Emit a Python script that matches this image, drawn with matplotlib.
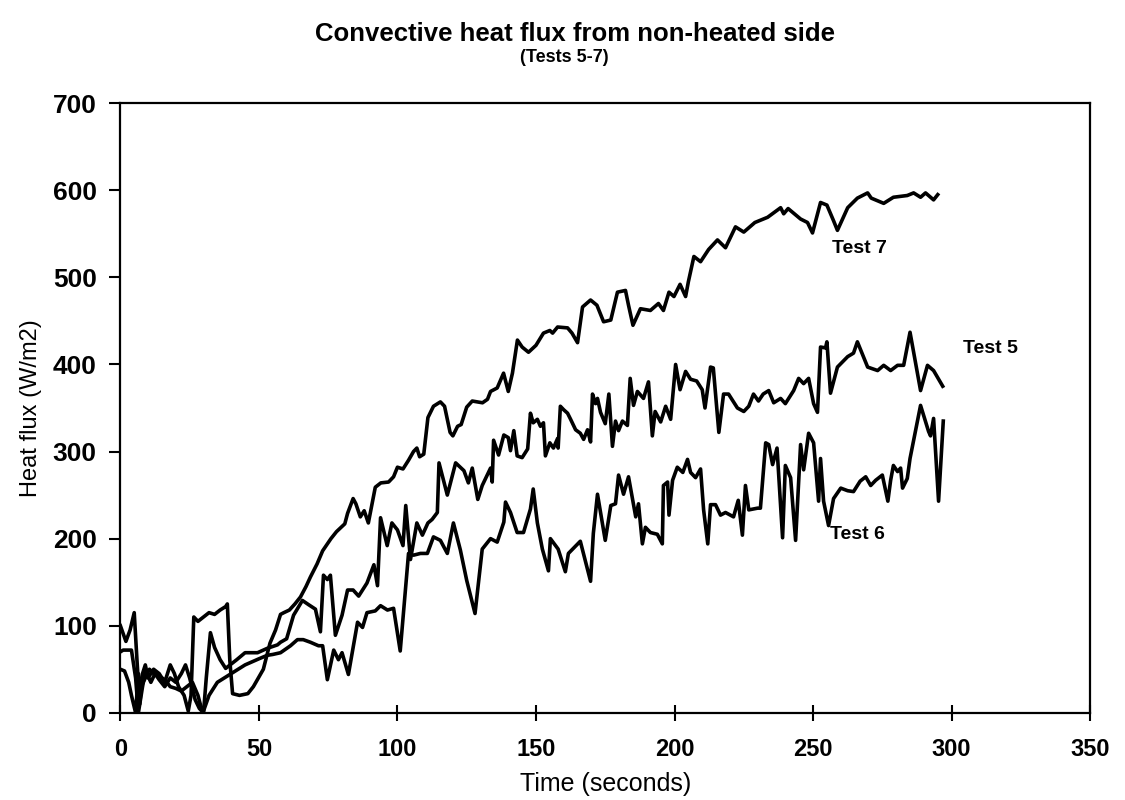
import matplotlib
matplotlib.use("Agg")
import matplotlib.pyplot as plt

plt.rcParams['font.family'] = ['Liberation Sans', 'DejaVu Sans']

# time (s) and convective heat flux (W/m2) for each test
t7 = [0, 2, 3.5, 5, 6, 7, 8, 9, 10, 12, 14, 16, 18, 19.5, 21, 23, 24.5, 25.5, 26.5, 28, 30, 32, 34, 36,
      38, 38.6, 39.5, 40.5, 43, 46, 48, 51.6, 54, 56, 57.8, 59, 61, 63, 65, 67, 68.6, 71, 73, 76, 78,
      81, 82, 84, 85, 86.6, 88, 89.5, 92, 94, 96.8, 98.6, 100, 102, 104, 105.8, 107, 108, 109.5, 111,
      113, 115.5, 117, 119, 120, 121.7, 123, 125, 127, 130.7, 132.5, 133.6, 136, 138.3, 140, 141.5,
      143.3, 145, 147.3, 150, 152.7, 155, 156, 157.8, 161.4, 163, 165, 166.8, 169.7, 172, 174.4, 177,
      179.4, 182.3, 183.4, 185, 187.7, 191.3, 194.2, 196, 198, 199.8, 202, 204, 205, 207, 209.4,
      212.3, 215.5, 218.4, 222, 225, 229, 233.6, 238.3, 239.4, 241, 245.5, 248, 249.8, 252.7, 255,
      257.4, 258.8, 262.5, 266, 269.7, 271, 275.5, 279, 284, 286.3, 288.8, 290.6, 293.5, 295]
q7 = [100, 82, 95, 115, 60, 10, 45, 55, 40, 50, 45, 35, 55, 45, 30, 20, 2, 20, 110, 105, 110, 115, 113,
      118, 122, 125, 60, 22, 20, 22, 30, 50, 80, 95, 113, 115, 118, 125, 133, 145, 156, 171, 186, 200,
      208, 217, 229, 246, 240, 225, 232, 218, 259, 264, 265, 271, 282, 280, 290, 300, 304, 294, 297,
      339, 352, 357, 352, 322, 318, 329, 331, 351, 358, 356, 360, 369, 373, 390, 369, 390, 428, 420,
      414, 422, 436, 439, 436, 443, 442, 436, 425, 466, 474, 468, 449, 451, 483, 485, 468, 445, 464,
      462, 470, 462, 483, 478, 492, 478, 495, 524, 518, 532, 543, 534, 558, 552, 563, 569, 580, 573,
      579, 567, 563, 551, 586, 583, 565, 554, 580, 591, 597, 591, 585, 592, 594, 597, 592, 597, 589,
      595]

t5 = [0, 1, 4, 5.5, 6.5, 8, 9, 10, 11, 12.5, 14, 16, 18, 20, 22, 23.5, 25, 27, 28.5, 30, 31, 32.5, 34,
      36, 38, 42, 45, 49.5, 53, 56.7, 57.8, 60, 62.5, 65.7, 68, 70.4, 72.2, 73.3, 74.7, 75.8, 77.6, 80,
      82, 84, 86, 89, 91.5, 92.8, 93.9, 96.3, 98, 100, 102, 103, 104.7, 107, 109, 111, 112.5, 114.4,
      115, 118, 121, 124, 125.6, 127, 129, 130.6, 131.8, 133.6, 134.2, 134.7, 136.5, 138.4, 140, 140.8,
      142, 143.2, 145, 147, 148, 149, 150.5, 151.6, 152.7, 153.4, 155, 156.3, 157.8, 158, 158.8, 160,
      161.4, 162.5, 164.3, 166, 167.2, 168.6, 169.7, 170.4, 171.5, 172.2, 173.3, 175, 176.3, 177.6,
      178.7, 179.8, 181.2, 183, 184, 185.2, 186.6, 188.8, 190.6, 192, 193, 195, 196.8, 198.6, 200.4,
      202, 204, 205.8, 208, 210, 211, 213, 214, 216, 217.7, 219.5, 222.7, 225, 226.8, 228.5, 230.3,
      232, 234, 235.8, 238.3, 240, 243, 244.8, 246.6, 248.4, 250.2, 251.6, 252.7, 254.5, 255, 256.3,
      258.8, 262.5, 264.6, 266, 269.7, 273.3, 275.5, 278, 280.5, 282.7, 285, 288.8, 291.3, 293.5,
      296.8]
q5 = [70, 72, 72, 40, 0, 30, 48, 42, 35, 45, 38, 30, 40, 35, 45, 55, 40, 15, 5, 0, 40, 92, 75, 61, 51,
      61, 69, 69, 74, 78, 81, 85, 112, 129, 124, 119, 93, 158, 153, 158, 89, 112, 141, 141, 134, 149,
      170, 146, 224, 192, 218, 210, 192, 238, 176, 218, 204, 218, 222, 230, 287, 250, 287, 278, 264,
      281, 245, 261, 269, 281, 265, 313, 296, 319, 316, 301, 324, 295, 293, 303, 344, 333, 337, 329,
      333, 295, 310, 304, 315, 304, 352, 348, 344, 337, 325, 321, 314, 325, 311, 366, 355, 361, 345,
      332, 366, 306, 335, 324, 335, 330, 384, 353, 369, 361, 380, 318, 346, 334, 352, 337, 400, 371,
      392, 383, 381, 371, 350, 397, 396, 322, 366, 366, 350, 346, 352, 366, 358, 366, 370, 356, 361,
      355, 370, 384, 378, 384, 355, 345, 420, 419, 426, 367, 397, 409, 413, 426, 397, 393, 399, 393,
      399, 399, 437, 370, 399, 393, 375]

t6 = [0, 1.5, 3, 4, 5.5, 6.5, 7.5, 9, 10.5, 12, 14, 16, 18, 20, 22, 24, 26, 28, 29, 30, 32, 35, 40, 45,
      50, 53, 55, 57.8, 61.4, 63.9, 66, 68.6, 71.5, 73, 74.7, 77, 78.7, 80, 82.3, 85.6, 87.4, 89, 92,
      93.9, 96.4, 98.6, 101, 104, 105.8, 108.3, 110.8, 113, 115.5, 118, 120.2, 122.7, 125, 128,
      130.6, 133.6, 136, 138.4, 139, 140.8, 143.2, 145.5, 148, 149, 150.5, 152.3, 154.5, 155.2, 158,
      160.6, 161.7, 166, 169.7, 170.7, 172.2, 175, 177, 178.7, 179.8, 181.6, 183.4, 186, 187, 188.4,
      189.5, 191.3, 193.8, 195.6, 196, 197.5, 198, 199.3, 201, 203, 204.7, 205.8, 207.6, 209.4,
      210.5, 212, 213, 214.8, 216.6, 218.4, 221.3, 223, 224.5, 225.6, 226.8, 230, 231, 232.9, 234,
      235.4, 237, 239, 240, 241.9, 243.7, 245.5, 246.6, 248.4, 250.2, 252, 252.7, 253.8, 255.6,
      257.4, 260, 262.5, 264.6, 267, 269, 270.8, 272.6, 275, 277, 278, 279, 280.5, 281.6, 282.3, 284,
      285, 288.8, 291.7, 292.4, 293.5, 295.3, 297]
q6 = [50, 48, 35, 20, 0, 45, 30, 40, 50, 45, 42, 38, 30, 28, 25, 30, 35, 20, 8, 2, 20, 35, 45, 55, 62,
      66, 67, 69, 77, 84, 84, 81, 77, 77, 38, 72, 61, 69, 44, 104, 98, 115, 117, 123, 118, 120, 71,
      183, 181, 183, 183, 202, 198, 183, 218, 187, 152, 114, 188, 200, 196, 219, 242, 230, 207, 207,
      234, 257, 218, 188, 163, 200, 188, 162, 183, 197, 151, 206, 251, 198, 238, 240, 273, 251, 271,
      225, 240, 194, 213, 207, 205, 194, 261, 265, 227, 267, 282, 276, 291, 276, 270, 280, 233, 194,
      239, 239, 227, 230, 225, 244, 204, 261, 233, 235, 235, 310, 308, 285, 304, 201, 284, 270, 198,
      308, 279, 321, 310, 243, 292, 243, 215, 246, 258, 255, 254, 266, 271, 261, 267, 273, 243, 267,
      284, 277, 281, 258, 269, 292, 353, 323, 318, 338, 243, 335]

fig = plt.figure(figsize=(11.25, 8), dpi=100)
ax = fig.add_axes([0.107, 0.109, 0.862, 0.762])

for t, q in [(t7, q7), (t5, q5), (t6, q6)]:
    ax.plot(t, q, color='black', lw=2.6, solid_joinstyle='round')

ax.set_xlim(0, 350)
ax.set_ylim(0, 700)
ax.set_xticks(range(0, 351, 50))
ax.set_yticks(range(0, 701, 100))
ax.tick_params(axis='x', direction='inout', length=12, width=1.5, pad=12, labelsize=17)
ax.tick_params(axis='y', direction='out', length=8, width=1.5, pad=9, labelsize=19)
for lab in ax.get_xticklabels() + ax.get_yticklabels():
    lab.set_fontweight('bold')
for s in ax.spines.values():
    s.set_linewidth(1.6)

ax.set_xlabel('Time (seconds)', fontsize=18, labelpad=8)
ax.set_ylabel('Heat flux (W/m2)', fontsize=17, labelpad=8)

ax.text(257, 533, 'Test 7', fontsize=14, fontweight='bold', va='center')
ax.text(304, 418, 'Test 5', fontsize=14, fontweight='bold', va='center')
ax.text(256, 205, 'Test 6', fontsize=14, fontweight='bold', va='center')

fig.text(0.511, 0.958, 'Convective heat flux from non-heated side', ha='center', va='center',
         fontsize=18.5, fontweight='bold')
fig.text(0.502, 0.928, '(Tests 5-7)', ha='center', va='center', fontsize=13, fontweight='bold')

fig.savefig('out.png', dpi=100)
